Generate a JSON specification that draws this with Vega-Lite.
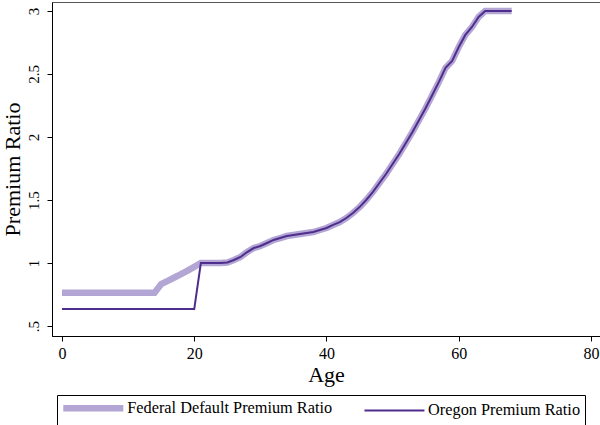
{
  "$schema": "https://vega.github.io/schema/vega-lite/v6.json",
  "autosize": "none",
  "width": 548,
  "height": 334,
  "padding": {"left": 52, "top": 2, "right": 0, "bottom": 89},
  "background": "white",
  "config": {
    "font": "Liberation Serif",
    "view": {"stroke": "#555555", "strokeWidth": 1},
    "axis": {"grid": false, "domainColor": "black", "tickColor": "black", "labelColor": "black", "titleColor": "black", "labelFont": "Liberation Serif", "titleFont": "Liberation Serif", "titleFontWeight": "normal", "labelFontSize": 15, "titleFontSize": 22, "tickSize": 5}
  },
  "data": {
    "values": [
      {"age": 0, "series": "Federal Default Premium Ratio", "ratio": 0.765},
      {"age": 1, "series": "Federal Default Premium Ratio", "ratio": 0.765},
      {"age": 2, "series": "Federal Default Premium Ratio", "ratio": 0.765},
      {"age": 3, "series": "Federal Default Premium Ratio", "ratio": 0.765},
      {"age": 4, "series": "Federal Default Premium Ratio", "ratio": 0.765},
      {"age": 5, "series": "Federal Default Premium Ratio", "ratio": 0.765},
      {"age": 6, "series": "Federal Default Premium Ratio", "ratio": 0.765},
      {"age": 7, "series": "Federal Default Premium Ratio", "ratio": 0.765},
      {"age": 8, "series": "Federal Default Premium Ratio", "ratio": 0.765},
      {"age": 9, "series": "Federal Default Premium Ratio", "ratio": 0.765},
      {"age": 10, "series": "Federal Default Premium Ratio", "ratio": 0.765},
      {"age": 11, "series": "Federal Default Premium Ratio", "ratio": 0.765},
      {"age": 12, "series": "Federal Default Premium Ratio", "ratio": 0.765},
      {"age": 13, "series": "Federal Default Premium Ratio", "ratio": 0.765},
      {"age": 14, "series": "Federal Default Premium Ratio", "ratio": 0.765},
      {"age": 15, "series": "Federal Default Premium Ratio", "ratio": 0.833},
      {"age": 16, "series": "Federal Default Premium Ratio", "ratio": 0.859},
      {"age": 17, "series": "Federal Default Premium Ratio", "ratio": 0.885},
      {"age": 18, "series": "Federal Default Premium Ratio", "ratio": 0.912},
      {"age": 19, "series": "Federal Default Premium Ratio", "ratio": 0.94},
      {"age": 20, "series": "Federal Default Premium Ratio", "ratio": 0.97},
      {"age": 21, "series": "Federal Default Premium Ratio", "ratio": 1.0},
      {"age": 22, "series": "Federal Default Premium Ratio", "ratio": 1.0},
      {"age": 23, "series": "Federal Default Premium Ratio", "ratio": 1.0},
      {"age": 24, "series": "Federal Default Premium Ratio", "ratio": 1.0},
      {"age": 25, "series": "Federal Default Premium Ratio", "ratio": 1.004},
      {"age": 26, "series": "Federal Default Premium Ratio", "ratio": 1.024},
      {"age": 27, "series": "Federal Default Premium Ratio", "ratio": 1.048},
      {"age": 28, "series": "Federal Default Premium Ratio", "ratio": 1.087},
      {"age": 29, "series": "Federal Default Premium Ratio", "ratio": 1.119},
      {"age": 30, "series": "Federal Default Premium Ratio", "ratio": 1.135},
      {"age": 31, "series": "Federal Default Premium Ratio", "ratio": 1.159},
      {"age": 32, "series": "Federal Default Premium Ratio", "ratio": 1.183},
      {"age": 33, "series": "Federal Default Premium Ratio", "ratio": 1.198},
      {"age": 34, "series": "Federal Default Premium Ratio", "ratio": 1.214},
      {"age": 35, "series": "Federal Default Premium Ratio", "ratio": 1.222},
      {"age": 36, "series": "Federal Default Premium Ratio", "ratio": 1.23},
      {"age": 37, "series": "Federal Default Premium Ratio", "ratio": 1.238},
      {"age": 38, "series": "Federal Default Premium Ratio", "ratio": 1.246},
      {"age": 39, "series": "Federal Default Premium Ratio", "ratio": 1.262},
      {"age": 40, "series": "Federal Default Premium Ratio", "ratio": 1.278},
      {"age": 41, "series": "Federal Default Premium Ratio", "ratio": 1.302},
      {"age": 42, "series": "Federal Default Premium Ratio", "ratio": 1.325},
      {"age": 43, "series": "Federal Default Premium Ratio", "ratio": 1.357},
      {"age": 44, "series": "Federal Default Premium Ratio", "ratio": 1.397},
      {"age": 45, "series": "Federal Default Premium Ratio", "ratio": 1.444},
      {"age": 46, "series": "Federal Default Premium Ratio", "ratio": 1.5},
      {"age": 47, "series": "Federal Default Premium Ratio", "ratio": 1.563},
      {"age": 48, "series": "Federal Default Premium Ratio", "ratio": 1.635},
      {"age": 49, "series": "Federal Default Premium Ratio", "ratio": 1.706},
      {"age": 50, "series": "Federal Default Premium Ratio", "ratio": 1.786},
      {"age": 51, "series": "Federal Default Premium Ratio", "ratio": 1.865},
      {"age": 52, "series": "Federal Default Premium Ratio", "ratio": 1.952},
      {"age": 53, "series": "Federal Default Premium Ratio", "ratio": 2.04},
      {"age": 54, "series": "Federal Default Premium Ratio", "ratio": 2.135},
      {"age": 55, "series": "Federal Default Premium Ratio", "ratio": 2.23},
      {"age": 56, "series": "Federal Default Premium Ratio", "ratio": 2.333},
      {"age": 57, "series": "Federal Default Premium Ratio", "ratio": 2.437},
      {"age": 58, "series": "Federal Default Premium Ratio", "ratio": 2.548},
      {"age": 59, "series": "Federal Default Premium Ratio", "ratio": 2.603},
      {"age": 60, "series": "Federal Default Premium Ratio", "ratio": 2.714},
      {"age": 61, "series": "Federal Default Premium Ratio", "ratio": 2.81},
      {"age": 62, "series": "Federal Default Premium Ratio", "ratio": 2.873},
      {"age": 63, "series": "Federal Default Premium Ratio", "ratio": 2.952},
      {"age": 64, "series": "Federal Default Premium Ratio", "ratio": 3.0},
      {"age": 65, "series": "Federal Default Premium Ratio", "ratio": 3.0},
      {"age": 66, "series": "Federal Default Premium Ratio", "ratio": 3.0},
      {"age": 67, "series": "Federal Default Premium Ratio", "ratio": 3.0},
      {"age": 68, "series": "Federal Default Premium Ratio", "ratio": 3.0},
      {"age": 0, "series": "Oregon Premium Ratio", "ratio": 0.635},
      {"age": 1, "series": "Oregon Premium Ratio", "ratio": 0.635},
      {"age": 2, "series": "Oregon Premium Ratio", "ratio": 0.635},
      {"age": 3, "series": "Oregon Premium Ratio", "ratio": 0.635},
      {"age": 4, "series": "Oregon Premium Ratio", "ratio": 0.635},
      {"age": 5, "series": "Oregon Premium Ratio", "ratio": 0.635},
      {"age": 6, "series": "Oregon Premium Ratio", "ratio": 0.635},
      {"age": 7, "series": "Oregon Premium Ratio", "ratio": 0.635},
      {"age": 8, "series": "Oregon Premium Ratio", "ratio": 0.635},
      {"age": 9, "series": "Oregon Premium Ratio", "ratio": 0.635},
      {"age": 10, "series": "Oregon Premium Ratio", "ratio": 0.635},
      {"age": 11, "series": "Oregon Premium Ratio", "ratio": 0.635},
      {"age": 12, "series": "Oregon Premium Ratio", "ratio": 0.635},
      {"age": 13, "series": "Oregon Premium Ratio", "ratio": 0.635},
      {"age": 14, "series": "Oregon Premium Ratio", "ratio": 0.635},
      {"age": 15, "series": "Oregon Premium Ratio", "ratio": 0.635},
      {"age": 16, "series": "Oregon Premium Ratio", "ratio": 0.635},
      {"age": 17, "series": "Oregon Premium Ratio", "ratio": 0.635},
      {"age": 18, "series": "Oregon Premium Ratio", "ratio": 0.635},
      {"age": 19, "series": "Oregon Premium Ratio", "ratio": 0.635},
      {"age": 20, "series": "Oregon Premium Ratio", "ratio": 0.635},
      {"age": 21, "series": "Oregon Premium Ratio", "ratio": 1.0},
      {"age": 22, "series": "Oregon Premium Ratio", "ratio": 1.0},
      {"age": 23, "series": "Oregon Premium Ratio", "ratio": 1.0},
      {"age": 24, "series": "Oregon Premium Ratio", "ratio": 1.0},
      {"age": 25, "series": "Oregon Premium Ratio", "ratio": 1.004},
      {"age": 26, "series": "Oregon Premium Ratio", "ratio": 1.024},
      {"age": 27, "series": "Oregon Premium Ratio", "ratio": 1.048},
      {"age": 28, "series": "Oregon Premium Ratio", "ratio": 1.087},
      {"age": 29, "series": "Oregon Premium Ratio", "ratio": 1.119},
      {"age": 30, "series": "Oregon Premium Ratio", "ratio": 1.135},
      {"age": 31, "series": "Oregon Premium Ratio", "ratio": 1.159},
      {"age": 32, "series": "Oregon Premium Ratio", "ratio": 1.183},
      {"age": 33, "series": "Oregon Premium Ratio", "ratio": 1.198},
      {"age": 34, "series": "Oregon Premium Ratio", "ratio": 1.214},
      {"age": 35, "series": "Oregon Premium Ratio", "ratio": 1.222},
      {"age": 36, "series": "Oregon Premium Ratio", "ratio": 1.23},
      {"age": 37, "series": "Oregon Premium Ratio", "ratio": 1.238},
      {"age": 38, "series": "Oregon Premium Ratio", "ratio": 1.246},
      {"age": 39, "series": "Oregon Premium Ratio", "ratio": 1.262},
      {"age": 40, "series": "Oregon Premium Ratio", "ratio": 1.278},
      {"age": 41, "series": "Oregon Premium Ratio", "ratio": 1.302},
      {"age": 42, "series": "Oregon Premium Ratio", "ratio": 1.325},
      {"age": 43, "series": "Oregon Premium Ratio", "ratio": 1.357},
      {"age": 44, "series": "Oregon Premium Ratio", "ratio": 1.397},
      {"age": 45, "series": "Oregon Premium Ratio", "ratio": 1.444},
      {"age": 46, "series": "Oregon Premium Ratio", "ratio": 1.5},
      {"age": 47, "series": "Oregon Premium Ratio", "ratio": 1.563},
      {"age": 48, "series": "Oregon Premium Ratio", "ratio": 1.635},
      {"age": 49, "series": "Oregon Premium Ratio", "ratio": 1.706},
      {"age": 50, "series": "Oregon Premium Ratio", "ratio": 1.786},
      {"age": 51, "series": "Oregon Premium Ratio", "ratio": 1.865},
      {"age": 52, "series": "Oregon Premium Ratio", "ratio": 1.952},
      {"age": 53, "series": "Oregon Premium Ratio", "ratio": 2.04},
      {"age": 54, "series": "Oregon Premium Ratio", "ratio": 2.135},
      {"age": 55, "series": "Oregon Premium Ratio", "ratio": 2.23},
      {"age": 56, "series": "Oregon Premium Ratio", "ratio": 2.333},
      {"age": 57, "series": "Oregon Premium Ratio", "ratio": 2.437},
      {"age": 58, "series": "Oregon Premium Ratio", "ratio": 2.548},
      {"age": 59, "series": "Oregon Premium Ratio", "ratio": 2.603},
      {"age": 60, "series": "Oregon Premium Ratio", "ratio": 2.714},
      {"age": 61, "series": "Oregon Premium Ratio", "ratio": 2.81},
      {"age": 62, "series": "Oregon Premium Ratio", "ratio": 2.873},
      {"age": 63, "series": "Oregon Premium Ratio", "ratio": 2.952},
      {"age": 64, "series": "Oregon Premium Ratio", "ratio": 3.0},
      {"age": 65, "series": "Oregon Premium Ratio", "ratio": 3.0},
      {"age": 66, "series": "Oregon Premium Ratio", "ratio": 3.0},
      {"age": 67, "series": "Oregon Premium Ratio", "ratio": 3.0},
      {"age": 68, "series": "Oregon Premium Ratio", "ratio": 3.0}
    ]
  },
  "mark": {"type": "line", "clip": true},
  "encoding": {
    "x": {
      "field": "age", "type": "quantitative", "title": "Age",
      "scale": {"domain": [-1.51, 81.36], "nice": false, "zero": false},
      "axis": {"values": [0, 20, 40, 60, 80], "labelPadding": 4, "titlePadding": 3, "labelFontSize": 16}
    },
    "y": {
      "field": "ratio", "type": "quantitative", "title": "Premium Ratio",
      "scale": {"domain": [0.421, 3.071], "nice": false, "zero": false},
      "axis": {"values": [0.5, 1, 1.5, 2, 2.5, 3], "format": "~g", "labelExpr": "datum.value == 0.5 ? '.5' : datum.label", "labelAngle": -90, "labelAlign": "center", "labelBaseline": "bottom", "labelPadding": 6, "titlePadding": 2}
    },
    "color": {
      "field": "series", "type": "nominal",
      "scale": {"domain": ["Federal Default Premium Ratio", "Oregon Premium Ratio"], "range": ["#b3a6d5", "#4f2d8c"]},
      "legend": {
        "orient": "none", "legendX": 5, "legendY": 393, "direction": "horizontal", "title": null,
        "strokeColor": "black", "padding": 4.5, "symbolType": "M-6,0H6", "symbolSize": 100, "symbolOffset": 23.3,
        "labelFont": "Liberation Serif", "labelFontSize": 16.3, "labelColor": "black", "labelOffset": 25.5, "columnPadding": 27.5, "labelLimit": 400
      }
    },
    "strokeWidth": {
      "field": "series", "type": "nominal",
      "scale": {"domain": ["Federal Default Premium Ratio", "Oregon Premium Ratio"], "range": [6.5, 2]},
      "legend": {
        "orient": "none", "legendX": 5, "legendY": 393, "direction": "horizontal", "title": null,
        "strokeColor": "black", "padding": 4.5, "symbolType": "M-6,0H6", "symbolSize": 100, "symbolOffset": 23.3,
        "labelFont": "Liberation Serif", "labelFontSize": 16.3, "labelColor": "black", "labelOffset": 25.5, "columnPadding": 27.5, "labelLimit": 400
      }
    }
  }
}
